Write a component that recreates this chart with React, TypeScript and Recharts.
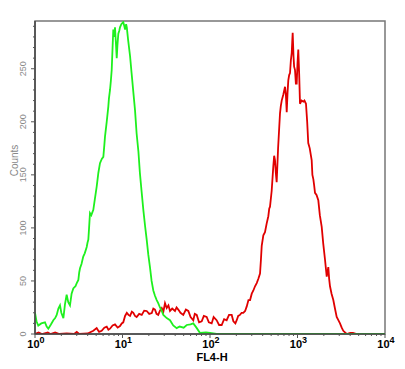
import React from "react";
import { LineChart, Line, XAxis, YAxis, ReferenceArea, Label } from "recharts";

// FL4-H intensity (x) and event counts (y)
const greenX = [1.0, 1.04, 1.09, 1.18, 1.3, 1.36, 1.42, 1.52, 1.62, 1.7, 1.77, 1.85, 1.93, 2.0, 2.11, 2.2, 2.3, 2.4, 2.51, 2.62, 2.74, 2.9, 3.0, 3.13, 3.2, 3.27, 3.4, 3.56, 3.7, 3.9, 3.98, 4.07, 4.15, 4.25, 4.4, 4.64, 4.85, 5.07, 5.3, 5.53, 5.8, 6.04, 6.2, 6.31, 6.6, 6.88, 7.0, 7.2, 7.35, 7.53, 7.7, 7.85, 8.0, 8.21, 8.4, 8.59, 8.75, 8.96, 9.2, 9.36, 9.7, 10.2, 10.5, 10.7, 11.0, 11.2, 11.6, 12.2, 12.7, 13.3, 13.9, 14.5, 15.2, 15.8, 16.5, 17.3, 18.1, 18.9, 19.7, 20.6, 21.5, 22.5, 23.5, 24.6, 25.6, 26.8, 28, 29.3, 32, 34.9, 38, 41.6, 45, 50, 54.2, 60, 64.4, 70, 76.9, 90, 100, 119, 10000];
const greenY = [20, 12, 8, 10, 11, 7, 5, 9, 13, 15, 18, 24, 27, 20, 15, 28, 37, 30, 27, 38, 43, 45, 48, 51, 58, 62, 66, 73, 76, 82, 86, 89, 100, 114, 112, 117, 128, 139, 152, 161, 165, 167, 178, 186, 200, 214, 222, 230, 238, 249, 270, 287, 280, 289, 275, 260, 272, 283, 286, 289, 292, 294, 290, 287, 292, 289, 277, 262, 246, 228, 211, 189, 172, 152, 135, 117, 102, 89, 75, 63, 50, 41, 36, 32, 29, 25, 22, 18, 15, 13, 8, 5.5, 7, 6, 8.5, 9, 10, 6, 1, 1.5, 1, 0, 0];

const redX = [1, 1.1, 1.2, 1.4, 1.5, 1.7, 1.9, 2.3, 2.8, 3.0, 3.2, 4.0, 4.64, 5.07, 5.4, 5.78, 6.2, 6.6, 6.9, 7.2, 7.7, 8.21, 8.8, 9.36, 9.8, 10.2, 10.7, 11.2, 11.7, 12.2, 12.8, 13.3, 13.9, 14.5, 15.5, 16.6, 17.7, 18.9, 20.2, 21.6, 22.5, 23.5, 24.5, 25.6, 26.8, 28.1, 29.3, 30.6, 32.0, 33.5, 34.9, 37, 39.8, 41.5, 43.4, 46, 49.5, 53, 56.5, 60, 64.4, 67, 70.5, 75, 80.4, 85, 91.6, 97, 104.5, 110, 119, 127, 136, 145, 155, 165, 177, 185, 195, 202, 210, 220, 230, 240, 252, 263, 275, 287, 300, 313, 327, 342, 357, 373, 382, 390, 407, 425, 444, 464, 475, 485, 507, 529, 541, 553, 565, 578, 600, 631, 645, 660, 690, 720, 737, 753, 770, 785, 803, 821, 840, 859, 870, 881, 900, 915, 936, 958, 979, 1000, 1021, 1045, 1068, 1110, 1165, 1200, 1250, 1290, 1327, 1380, 1452, 1480, 1517, 1550, 1585, 1650, 1729, 1800, 1891, 1970, 2063, 2110, 2158, 2200, 2249, 2300, 2352, 2450, 2566, 2680, 2805, 2930, 3060, 3200, 3337, 3648, 4000, 4306, 4750, 10000];
const redY = [0, 1.5, 0, 1.5, 0, 1.5, 0, 0.5, 0, 2, 0, 0.5, 3, 5.5, 2, 3, 6, 7, 4, 5, 8, 9, 6, 7.5, 10, 11, 17, 20, 18, 17, 21, 20, 17, 16, 19, 18, 22, 21.7, 19, 19.8, 24, 23, 19, 18, 22, 24.5, 21, 29, 24.5, 27, 21.7, 24, 21.7, 25, 23, 20, 18, 23, 21.7, 16, 13, 19, 18, 11, 12, 17, 16, 11, 10, 16, 13, 8.5, 8.5, 14, 13, 18, 18, 12, 10, 13, 17, 18, 20, 20, 21.7, 26, 32, 32, 38, 41, 45, 48, 52, 57, 70, 83, 93, 96, 104, 111, 118, 120, 135, 158, 168, 164, 152, 143, 175, 208, 215, 220, 226, 233, 225, 209, 228, 239, 244, 246, 258, 265, 275, 284, 262, 252, 249, 236, 236, 255, 268, 245, 217, 220, 219, 220, 217, 200, 180, 175, 164, 150, 146, 140, 133, 131, 126, 112, 101, 85, 70, 62, 54, 58, 63, 52, 45, 38, 32, 24, 16, 13, 10, 6, 3, 0, 1, 1, 0, 0];

const xTicks = [1, 2, 3, 4, 5, 6, 7, 8, 9, 10, 20, 30, 40, 50, 60, 70, 80, 90, 100, 200, 300, 400, 500, 600, 700, 800, 900, 1000, 2000, 3000, 4000, 5000, 6000, 7000, 8000, 9000, 10000];
const yTicks = [0, 10, 20, 30, 40, 50, 60, 70, 80, 90, 100, 110, 120, 130, 140, 150, 160, 170, 180, 190, 200, 210, 220, 230, 240, 250, 260, 270, 280, 290];
const yMajor = [0, 50, 100, 150, 200, 250];
const xMajor = [1, 10, 100, 1000, 10000];

const greenData = greenX.map((x, i) => ({ x, y: greenY[i] }));
const redData = redX.map((x, i) => ({ x, y: redY[i] }));

const FONT = "'Liberation Sans', Arial, sans-serif";

const XTick = (props: any) => {
  const { x, y, payload } = props;
  const v = payload.value;
  const major = xMajor.includes(v);
  const exp = Math.round(Math.log10(v));
  return (
    <g>
      <line x1={x} x2={x} y1={y} y2={y + (major ? 4 : 2)} stroke="#555" strokeWidth={1} />
      {major && (
        <text x={x + 1} y={y + 14} textAnchor="middle" fontFamily={FONT} fontWeight="bold" fontSize={11} fill="#000">
          <tspan>10</tspan>
          <tspan dy={-5} fontSize={9}>{exp}</tspan>
        </text>
      )}
    </g>
  );
};

const YTick = (props: any) => {
  const { x, y, payload } = props;
  const v = payload.value;
  const major = yMajor.includes(v);
  return (
    <g>
      <line x1={x} x2={x - (major ? 4 : 2)} y1={y} y2={y} stroke="#555" strokeWidth={1} />
      {major && (
        <text transform={`translate(${x - 9},${y}) rotate(-90)`} textAnchor="middle" fontFamily={FONT} fontSize={9} fill="#888">
          {v}
        </text>
      )}
    </g>
  );
};

export default function App() {
  return (
    <LineChart width={390} height={357} margin={{ top: 13, right: 13, left: 0, bottom: 0 }}>
      <XAxis
        dataKey="x"
        type="number"
        scale="log"
        domain={[1, 10000]}
        ticks={xTicks}
        interval={0}
        tickSize={0}
        tickMargin={0}
        tickLine={false}
        tick={<XTick />}
        axisLine={{ stroke: "#444", strokeWidth: 1.5 }}
        height={31}
        allowDataOverflow
      >
        <Label
          content={(p: any) => {
            const vb = p.viewBox || {};
            return (
              <text x={vb.x + vb.width / 2 + 2} y={vb.y + 27} textAnchor="middle" fontFamily={FONT} fontWeight="bold" fontSize={11} fill="#000">
                FL4-H
              </text>
            );
          }}
        />
      </XAxis>
      <YAxis
        type="number"
        domain={[0, 295]}
        ticks={yTicks}
        interval={0}
        tickSize={0}
        tickMargin={0}
        tickLine={false}
        tick={<YTick />}
        axisLine={{ stroke: "#444", strokeWidth: 1.5 }}
        width={27}
        allowDataOverflow
      >
        <Label
          content={(p: any) => {
            const vb = p.viewBox || {};
            const cy = vb.y + vb.height / 2 - 17;
            return (
              <text transform={`translate(9.5,${cy}) rotate(-90)`} textAnchor="middle" fontFamily={FONT} fontSize={10} fill="#888">
                Counts
              </text>
            );
          }}
        />
      </YAxis>
      <ReferenceArea x1={1} x2={10000} y1={0} y2={295} fill="none" fillOpacity={0} stroke="#777" strokeWidth={1.5} />
      <Line data={redData} dataKey="y" type="linear" stroke="#e00000" strokeWidth={1.8} dot={false} isAnimationActive={false} />
      <Line data={greenData} dataKey="y" type="linear" stroke="#1ef01e" strokeWidth={1.8} dot={false} isAnimationActive={false} />
    </LineChart>
  );
}
